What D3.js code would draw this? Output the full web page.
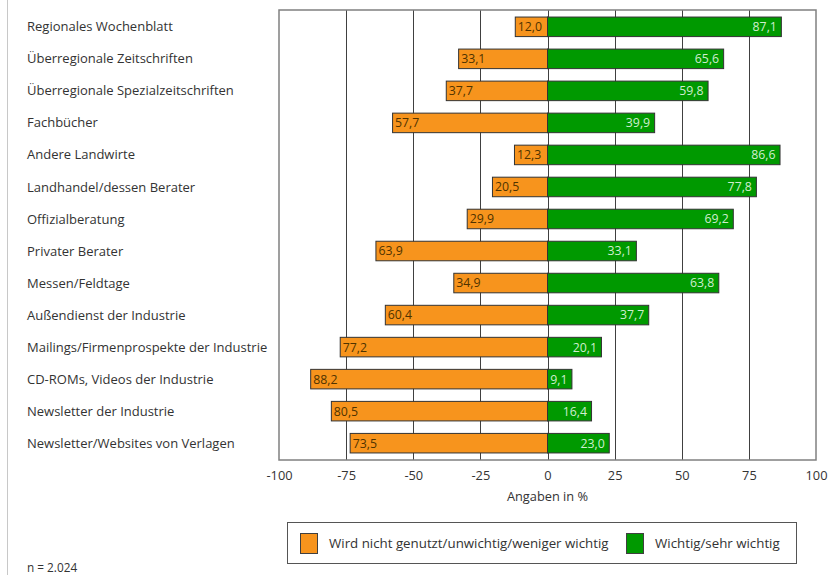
<!DOCTYPE html>
<html><head><meta charset="utf-8">
<script src="https://cdn.jsdelivr.net/npm/d3@7"></script>
<style>body{margin:0;background:#fff}svg{display:block}</style>
</head><body>
<script>
const categories = ["Regionales Wochenblatt","Überregionale Zeitschriften","Überregionale Spezialzeitschriften","Fachbücher","Andere Landwirte","Landhandel/dessen Berater","Offizialberatung","Privater Berater","Messen/Feldtage","Außendienst der Industrie","Mailings/Firmenprospekte der Industrie","CD-ROMs, Videos der Industrie","Newsletter der Industrie","Newsletter/Websites von Verlagen"];
const notImportant = [12.0,33.1,37.7,57.7,12.3,20.5,29.9,63.9,34.9,60.4,77.2,88.2,80.5,73.5];
const important = [87.1,65.6,59.8,39.9,86.6,77.8,69.2,33.1,63.8,37.7,20.1,9.1,16.4,23.0];
const tickValues = [-100,-75,-50,-25,0,25,50,75,100];
const seriesNames = ["Wird nicht genutzt/unwichtig/weniger wichtig","Wichtig/sehr wichtig"];
const axisTitle = "Angaben in %";
const note = "n = 2.024";

const W=829,H=575;
const font="'Open Sans', sans-serif";
const colOrange="#F7941D", colGreen="#009900";
const svg=d3.select("body").append("svg").attr("width",W).attr("height",H).style("font-family",font);
svg.append("line").attr("x1",7.5).attr("x2",7.5).attr("y1",0).attr("y2",H).attr("stroke","#c8c8c8");

const x=d3.scaleLinear().domain([-100,100]).range([279,816]);
const y=d3.scaleBand().domain(categories).range([10,460]).paddingInner(0.39).paddingOuter(0.22);
const fmt=v=>d3.format(".1f")(v).replace(".",",");

// gridlines
svg.append("g").selectAll("line").data(tickValues.slice(1,-1)).join("line")
 .attr("x1",d=>Math.round(x(d))+0.5).attr("x2",d=>Math.round(x(d))+0.5)
 .attr("y1",10).attr("y2",460).attr("stroke","#404040").attr("stroke-width",1);
svg.append("rect").attr("x",x(-100)).attr("y",10).attr("width",x(100)-x(-100)).attr("height",450)
 .attr("fill","none").attr("stroke","#808080").attr("stroke-width",1.5);

// category labels
svg.append("g").selectAll("text").data(categories).join("text")
 .attr("x",27).attr("y",d=>y(d)+y.bandwidth()/2).attr("dy","0.35em")
 .attr("font-size",13).attr("fill","#333").text(d=>d);

// bars
const rows=categories.map((c,i)=>({c,n:notImportant[i],w:important[i]}));
const g=svg.append("g");
g.selectAll("rect.o").data(rows).join("rect").attr("class","o")
 .attr("x",d=>x(-d.n)).attr("y",d=>y(d.c)).attr("width",d=>x(0)-x(-d.n)).attr("height",y.bandwidth())
 .attr("fill",colOrange).attr("stroke","#333").attr("stroke-width",1);
g.selectAll("rect.g").data(rows).join("rect").attr("class","g")
 .attr("x",x(0)).attr("y",d=>y(d.c)).attr("width",d=>x(d.w)-x(0)).attr("height",y.bandwidth())
 .attr("fill",colGreen).attr("stroke","#333").attr("stroke-width",1);
g.selectAll("text.o").data(rows).join("text").attr("class","o")
 .attr("x",d=>x(-d.n)+2.5).attr("y",d=>y(d.c)+y.bandwidth()/2).attr("dy","0.36em")
 .attr("font-size",12.3).attr("fill","#4f3300").text(d=>fmt(d.n));
g.selectAll("text.g").data(rows).join("text").attr("class","g")
 .attr("x",d=>x(d.w)-4.5).attr("y",d=>y(d.c)+y.bandwidth()/2).attr("dy","0.36em")
 .attr("text-anchor","end").attr("font-size",12.3).attr("fill","#cfeecf").text(d=>fmt(d.w));

// axis
const ax=svg.append("g").attr("transform","translate(0,460)")
 .call(d3.axisBottom(x).tickValues(tickValues).tickSize(0).tickPadding(11).tickFormat(d=>d));
ax.select(".domain").remove();
ax.selectAll("text").attr("font-size",12.8).attr("fill","#333").style("font-family",font);
svg.append("text").attr("x",x(0)).attr("y",501).attr("text-anchor","middle")
 .attr("font-size",12.8).attr("fill","#333").text(axisTitle);

// legend
svg.append("rect").attr("x",287.5).attr("y",522.5).attr("width",509).attr("height",41)
 .attr("fill","#fff").attr("stroke","#555");
const leg=[{x:300,c:colOrange,t:seriesNames[0]},{x:626,c:colGreen,t:seriesNames[1]}];
svg.selectAll("g.leg").data(leg).join("g").attr("class","leg").each(function(d){
  const s=d3.select(this);
  s.append("rect").attr("x",d.x+0.5).attr("y",533.5).attr("width",17).attr("height",20).attr("fill",d.c).attr("stroke","#404040");
  s.append("text").attr("x",d.x+29).attr("y",543.5).attr("dy","0.35em").attr("font-size",13.3).attr("fill","#333").text(d.t);
});
svg.append("text").attr("x",27).attr("y",572).attr("font-size",11.8).attr("fill","#333").text(note);
</script>
</body></html>
